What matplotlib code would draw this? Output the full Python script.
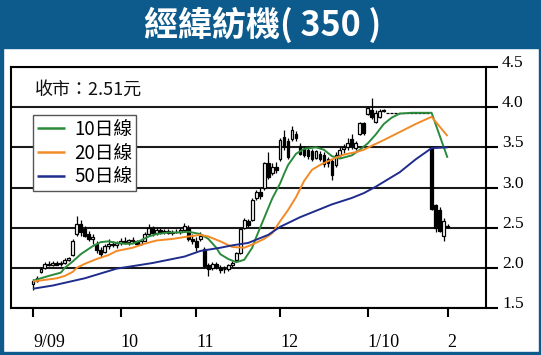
import matplotlib
matplotlib.use('Agg')
import matplotlib.pyplot as plt
from matplotlib.patches import Rectangle
import numpy as np

# ---------------- data ----------------
title = '經緯紡機( 350 )'
close_label = '收市：2.51元'
month_ticks = [0, 22, 41, 62, 84, 104]
month_labels = ['9/09', '10', '11', '12', '1/10', '2']
price_ticks = [1.5, 2.0, 2.5, 3.0, 3.5, 4.0, 4.5]

opens = [1.80, 1.84, 1.95, 2.00, 2.05, 2.04, 2.06, 2.05, 2.06, 2.10,
         2.16, 2.42, 2.55, 2.48, 2.42, 2.36, 2.30, 2.22, 2.20, 2.27,
         2.30, 2.28, 2.31, 2.34, 2.32, 2.35, 2.33, 2.30, 2.34, 2.42,
         2.49, 2.43, 2.47, 2.44, 2.46, 2.43, 2.45, 2.44, 2.47, 2.50,
         2.36, 2.33, 2.36, 2.24, 2.03, 2.00, 2.05, 2.00, 1.98, 1.99,
         2.03, 2.10, 2.19, 2.50, 2.58, 2.60, 2.87, 2.95, 2.99, 3.30,
         3.18, 3.25, 3.35, 3.63, 3.58, 3.60, 3.66, 3.52, 3.48, 3.47,
         3.45, 3.37, 3.42, 3.40, 3.35, 3.33, 3.28, 3.40, 3.48, 3.50,
         3.60, 3.49, 3.67, 3.80, 3.92, 3.97, 3.82, 3.88, 3.96, 3.93,
         3.93, 3.93, 3.93, 3.93, 3.93, 3.93, 3.93, 3.93, 3.93, 3.93,
         3.50, 2.78, 2.72, 2.40, 2.52]
highs = [1.86, 1.90, 2.01, 2.07, 2.08, 2.08, 2.09, 2.08, 2.12, 2.14,
         2.36, 2.65, 2.60, 2.52, 2.46, 2.42, 2.33, 2.26, 2.30, 2.36,
         2.34, 2.34, 2.37, 2.38, 2.36, 2.38, 2.35, 2.35, 2.44, 2.54,
         2.52, 2.49, 2.50, 2.48, 2.48, 2.47, 2.48, 2.50, 2.56, 2.53,
         2.42, 2.38, 2.44, 2.26, 2.06, 2.07, 2.07, 2.03, 2.02, 2.05,
         2.08, 2.20, 2.50, 2.62, 2.61, 2.87, 2.97, 3.00, 3.32, 3.44,
         3.31, 3.32, 3.62, 3.71, 3.62, 3.76, 3.70, 3.55, 3.52, 3.50,
         3.48, 3.47, 3.45, 3.44, 3.38, 3.36, 3.44, 3.50, 3.54, 3.62,
         3.66, 3.58, 3.82, 3.82, 4.00, 4.11, 3.96, 3.98, 3.98, 3.93,
         3.93, 3.93, 3.93, 3.93, 3.93, 3.93, 3.93, 3.93, 3.93, 3.93,
         3.50, 2.80, 2.76, 2.62, 2.54]
lows = [1.73, 1.82, 1.93, 1.98, 2.02, 2.02, 2.03, 2.02, 2.05, 2.08,
        2.15, 2.40, 2.40, 2.38, 2.33, 2.30, 2.18, 2.14, 2.18, 2.24,
        2.26, 2.25, 2.28, 2.30, 2.29, 2.31, 2.28, 2.28, 2.33, 2.40,
        2.40, 2.41, 2.42, 2.42, 2.42, 2.41, 2.43, 2.42, 2.45, 2.33,
        2.30, 2.21, 2.34, 2.00, 1.90, 1.97, 1.98, 1.94, 1.93, 1.96,
        2.01, 2.09, 2.17, 2.48, 2.51, 2.58, 2.85, 2.86, 2.97, 3.10,
        3.15, 3.18, 3.33, 3.47, 3.35, 3.58, 3.58, 3.40, 3.38, 3.36,
        3.33, 3.35, 3.33, 3.26, 3.26, 3.09, 3.26, 3.38, 3.43, 3.47,
        3.48, 3.47, 3.65, 3.65, 3.90, 3.85, 3.80, 3.86, 3.94, 3.93,
        3.93, 3.93, 3.93, 3.93, 3.93, 3.93, 3.93, 3.93, 3.93, 3.93,
        2.72, 2.44, 2.44, 2.34, 2.49]
closes = [1.84, 1.87, 1.98, 2.05, 2.04, 2.06, 2.04, 2.06, 2.10, 2.12,
          2.34, 2.55, 2.44, 2.40, 2.36, 2.38, 2.22, 2.17, 2.27, 2.30,
          2.28, 2.31, 2.34, 2.32, 2.35, 2.33, 2.30, 2.33, 2.42, 2.50,
          2.43, 2.47, 2.44, 2.46, 2.43, 2.45, 2.44, 2.47, 2.52, 2.36,
          2.33, 2.26, 2.40, 2.02, 1.98, 2.05, 2.01, 1.97, 1.99, 2.03,
          2.06, 2.18, 2.48, 2.60, 2.53, 2.85, 2.95, 2.90, 3.30, 3.13,
          3.25, 3.22, 3.59, 3.50, 3.38, 3.72, 3.62, 3.42, 3.41, 3.39,
          3.36, 3.45, 3.35, 3.29, 3.30, 3.16, 3.40, 3.47, 3.50, 3.56,
          3.52, 3.56, 3.80, 3.68, 3.99, 3.88, 3.93, 3.95, 3.95, 3.93,
          3.93, 3.93, 3.93, 3.93, 3.93, 3.93, 3.93, 3.93, 3.93, 3.93,
          2.73, 2.50, 2.46, 2.58, 2.51]

ma10_x = [0, 2, 4, 7, 8, 10, 12, 15, 17, 19, 21, 23, 25, 27, 29, 31, 34, 37, 39,
          42, 44, 46, 47, 49, 51, 53, 55, 56, 58, 60, 62, 63, 64, 66, 68, 71, 73,
          75, 77, 80, 82, 84, 86, 88, 90, 92, 95, 100, 104]
ma10_y = [1.84, 1.87, 1.90, 1.94, 2.00, 2.08, 2.17, 2.27, 2.32, 2.33, 2.31, 2.30,
          2.30, 2.34, 2.39, 2.42, 2.44, 2.44, 2.45, 2.42, 2.36, 2.25, 2.17, 2.11,
          2.07, 2.10, 2.25, 2.38, 2.62, 2.86, 3.05, 3.17, 3.28, 3.42, 3.48, 3.50,
          3.47, 3.39, 3.36, 3.40, 3.47, 3.55, 3.66, 3.79, 3.87, 3.92, 3.93, 3.93,
          3.37]
ma20_x = [0, 3, 6, 8, 10, 11, 13, 16, 19, 21, 25, 28, 31, 35, 39, 42, 44, 47, 50,
          53, 55, 58, 60, 62, 64, 66, 68, 70, 72, 75, 78, 81, 83, 85, 88, 92, 96,
          100, 104]
ma20_y = [1.83, 1.85, 1.87, 1.90, 1.95, 2.00, 2.05, 2.11, 2.16, 2.21, 2.25, 2.30,
          2.34, 2.36, 2.39, 2.41, 2.39, 2.33, 2.26, 2.25, 2.29, 2.36, 2.43, 2.58,
          2.72, 2.88, 3.08, 3.22, 3.28, 3.35, 3.41, 3.44, 3.47, 3.52, 3.59, 3.69,
          3.79, 3.88, 3.64]
ma50_x = [0, 5, 13, 21, 30, 38, 42, 47, 50, 54, 59, 62, 67, 71, 75, 80, 83, 86,
          88, 92, 96, 100, 104]
ma50_y = [1.74, 1.78, 1.87, 1.99, 2.06, 2.14, 2.21, 2.25, 2.28, 2.31, 2.41, 2.51,
          2.63, 2.71, 2.79, 2.87, 2.93, 3.01, 3.07, 3.19, 3.35, 3.49, 3.50]
ma_labels = ['10日線', '20日線', '50日線']
ma_colors = ['#2b8b3b', '#f28a26', '#1f2c8c']

# ---------------- figure ----------------
W, H = 541, 355
fig = plt.figure(figsize=(W / 100, H / 100), dpi=100)
fig.patch.set_facecolor('white')
BLUE = '#0d5a8c'
CJK = ['Noto Sans CJK TC', 'DejaVu Sans']


def fx(px):
    return px / W


def fy(py):
    return 1 - py / H


fig.patches.append(Rectangle((0, fy(48)), 1, 48 / H, transform=fig.transFigure,
                             color=BLUE, zorder=0))
fig.patches.append(Rectangle((0, 0), 2.5 / W, 1, transform=fig.transFigure,
                             color=BLUE, zorder=0))
fig.patches.append(Rectangle((fx(538.5), 0), 2.5 / W, 1, transform=fig.transFigure,
                             color=BLUE, zorder=0))
fig.patches.append(Rectangle((0, 0), 1, 3 / H, transform=fig.transFigure,
                             color=BLUE, zorder=0))
fig.text(fx(263), fy(25), title, color='white', fontsize=24.5, fontweight='heavy',
         family=CJK, ha='center', va='center')

ax = fig.add_axes([fx(11), fy(308), (486 - 11) / W, (308 - 67) / H])
ax.set_xlim(-5.5, 113.65)
ax.set_ylim(1.5, 4.5)

x = np.arange(len(closes))
o = np.array(opens)
h = np.array(highs)
l = np.array(lows)
c = np.array(closes)
up = c >= o
ax.vlines(x, l, h, color='black', lw=0.9, zorder=3)
ax.bar(x[up], (c - o)[up], bottom=o[up], width=0.7, color='white',
       edgecolor='black', lw=0.9, zorder=4)
ax.bar(x[~up], (o - c)[~up], bottom=c[~up], width=0.7, color='black',
       edgecolor='black', lw=0.9, zorder=4)

for xs, ys, col, lab in zip([ma10_x, ma20_x, ma50_x], [ma10_y, ma20_y, ma50_y],
                            ma_colors, ma_labels):
    ax.plot(xs, ys, color=col, lw=1.4, zorder=5, label=lab, solid_capstyle='butt')

# axes styling
ax.set_yticks(price_ticks)
ax.yaxis.tick_right()
ax.yaxis.grid(True, color='#1a1a1a', lw=1.5)
ax.set_axisbelow(True)
ax.tick_params(axis='y', direction='out', length=8.6, width=1.5, pad=3,
               labelsize=12.5, colors='black')
ax.set_yticklabels([f'{v:.1f}' for v in price_ticks], family='Liberation Serif')
for lab in ax.get_yticklabels():
    lab.set_va('baseline')

ax.set_xticks(month_ticks)
ax.set_xticklabels(month_labels, family='Liberation Serif', ha='left')
ax.tick_params(axis='x', direction='out', length=6.5, width=1.5, pad=12,
               labelsize=13, colors='black')
for s in ax.spines.values():
    s.set_linewidth(1.5)
    s.set_color('black')

ax.text((35 - 11) / 475, (308 - 90) / 241, close_label, transform=ax.transAxes,
        fontsize=13, family=CJK, va='center', ha='left', color='#111111')

leg = ax.legend(loc='upper left', bbox_to_anchor=((33 - 11) / 475, (308 - 115) / 241),
                prop={'family': CJK, 'size': 13.5}, frameon=True, fancybox=False,
                edgecolor='#555555', framealpha=1, borderpad=0.2,
                handlelength=1.5, handletextpad=0.5, labelspacing=0.15,
                borderaxespad=0)
leg.get_frame().set_linewidth(1.0)
for line in leg.get_lines():
    line.set_linewidth(1.8)
leg.set_zorder(10)

fig.savefig('out.png', dpi=100)
